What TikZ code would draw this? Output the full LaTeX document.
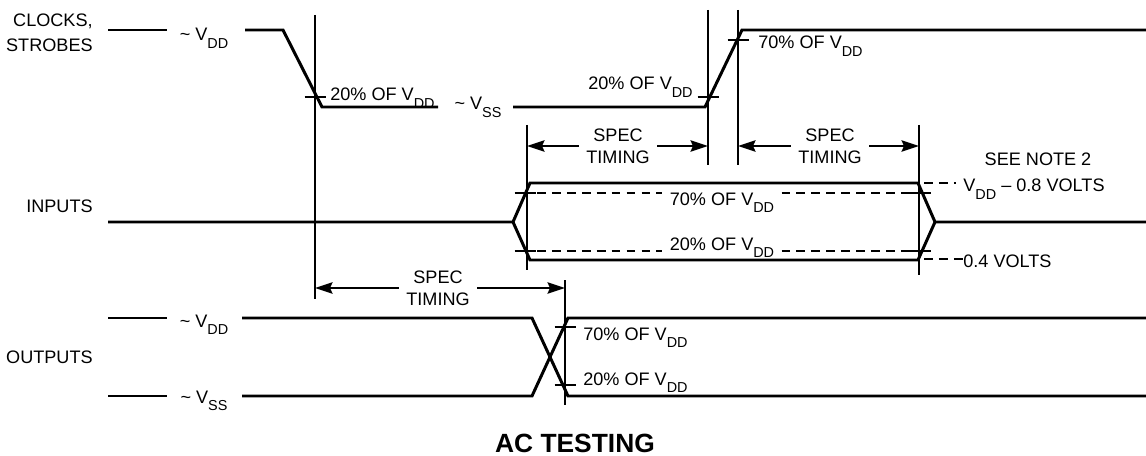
\documentclass[tikz,border=0pt]{standalone}
\usepackage{fontspec}
\setmainfont{Liberation Sans}
\usetikzlibrary{arrows.meta}
\newcommand{\lowsub}[1]{\raisebox{-0.8ex}{\fontsize{8.2}{9}\selectfont #1}}
\newcommand{\Vdd}{V\lowsub{DD}}
\newcommand{\Vss}{V\lowsub{SS}}
\tikzset{
  sig/.style={line width=1.7pt},
  cursor/.style={line width=1pt},
  notch/.style={line width=1.7pt},
  lvl/.style={line width=1.3pt, dash pattern=on 5pt off 3.5pt},
  span/.style={-{Stealth[length=10pt,width=6.5pt,inset=1.5pt]}, line width=1pt},
  txt/.style={inner sep=0pt, font=\fontsize{10.3}{12.5}\selectfont},
  cut/.style={txt, inner xsep=4pt},
}

\begin{document}
\begin{tikzpicture}[x=0.02cm, y=-0.02cm]
  \useasboundingbox (0,0) rectangle (1146,456);
  % signal names
  \node[txt, anchor=east, align=right, font=\fontsize{10.3}{14}\selectfont] (clk) at (93,33) {CLOCKS,\\STROBES};
  \node[txt, anchor=base east] (inp) at (93,212) {INPUTS};
  \node[txt, anchor=base east] (outp) at (93,363) {OUTPUTS};
  % reference lines
  \coordinate (fallC) at (315,15);
  \coordinate (riseA) at (708,10);
  \coordinate (riseB) at (738,10);
  \coordinate (inL) at (527,125);
  \coordinate (inR) at (919,125);
  \coordinate (outX) at (565,280);
  \draw[cursor] (fallC) -- ++(0,284);
  \draw[cursor] (riseA) -- ++(0,155);
  \draw[cursor] (riseB) -- ++(0,155);
  \draw[cursor] (inL) -- ++(0,145);
  \draw[cursor] (inR) -- ++(0,150);
  \draw[cursor] (outX) -- ++(0,125);
  % clocks, strobes
  \draw[sig] (108,30) -- (167,30);
  \node[txt, anchor=base] (cvdd) at (204,41) {\textasciitilde\ \Vdd};
  \draw[sig] (245,30) -- (283,30) -- (322,107) -- (438,107);
  \node[txt, anchor=base] (cvss) at (478,110) {\textasciitilde\ \Vss};
  \draw[sig] (513,107) -- (705,107) -- (742,30) -- (1146,30);
  \node[txt, anchor=base west] (cf20) at (330,101) {20\% OF \Vdd};
  \node[txt, anchor=base east] (cr20) at (693,90) {20\% OF \Vdd};
  \node[txt, anchor=base west] (cr70) at (758,49) {70\% OF \Vdd};
  % inputs
  \draw[sig] (108,222) -- (513,222) -- (530,183) -- (918,183) -- (935,222) -- (1146,222);
  \draw[sig] (513,222) -- (530,260) -- (918,260) -- (935,222);
  \node[cut, anchor=base] (in70) at (722,205) {70\% OF \Vdd};
  \node[cut, anchor=base] (in20) at (722,250) {20\% OF \Vdd};
  \draw[lvl] (537,193) -- (in70.west |- 0,193);
  \draw[lvl] (in70.east |- 0,193) -- (910,193);
  \draw[lvl] (537,251) -- (in20.west |- 0,251);
  \draw[lvl] (in20.east |- 0,251) -- (910,251);
  \node[txt, anchor=base] (note) at (1038,165) {SEE NOTE 2};
  \node[cut, anchor=base west] (vhi) at (956,192) {\Vdd\ -- 0.8 VOLTS};
  \node[txt, anchor=base west] (vlo) at (963,267) {0.4 VOLTS};
  \draw[lvl] (924,183) -- (vhi.west |- 0,183);
  \draw[lvl] (924,259) -- (vlo.west |- 0,259);
  % outputs
  \draw[sig] (108,318) -- (167,318);
  \node[txt, anchor=base] (ovdd) at (204,327) {\textasciitilde\ \Vdd};
  \draw[sig] (242,318) -- (532,318) -- (568,396) -- (1146,396);
  \draw[sig] (108,396) -- (167,396);
  \node[txt, anchor=base] (ovss) at (204,403) {\textasciitilde\ \Vss};
  \draw[sig] (242,396) -- (532,396) -- (568,318) -- (1146,318);
  \node[txt, anchor=base west] (o70) at (583,340) {70\% OF \Vdd};
  \node[txt, anchor=base west] (o20) at (583,385) {20\% OF \Vdd};
  % threshold marks
  \foreach \cx/\cy in {315/97, 708/97, 738/40, 525/193, 525/251, 920/193, 920/251, 565/327, 565/385}
    \draw[notch] (\cx-10.5,\cy) -- (\cx+10.5,\cy);
  % spec timing
  \node[cut, align=center] (st1) at (618,146) {SPEC\\TIMING};
  \draw[span] (st1.west) -- (st1.west -| inL);
  \draw[span] (st1.east) -- (st1.east -| riseA);
  \node[cut, align=center] (st2) at (830,146) {SPEC\\TIMING};
  \draw[span] (st2.west) -- (st2.west -| riseB);
  \draw[span] (st2.east) -- (st2.east -| inR);
  \node[cut, align=center] (st3) at (438,288) {SPEC\\TIMING};
  \draw[span] (st3.west) -- (st3.west -| fallC);
  \draw[span] (st3.east) -- (st3.east -| outX);
  \node[inner sep=0pt, anchor=base, font=\bfseries\fontsize{15}{18}\selectfont] (title) at (575,452) {AC TESTING};
\end{tikzpicture}
\end{document}
